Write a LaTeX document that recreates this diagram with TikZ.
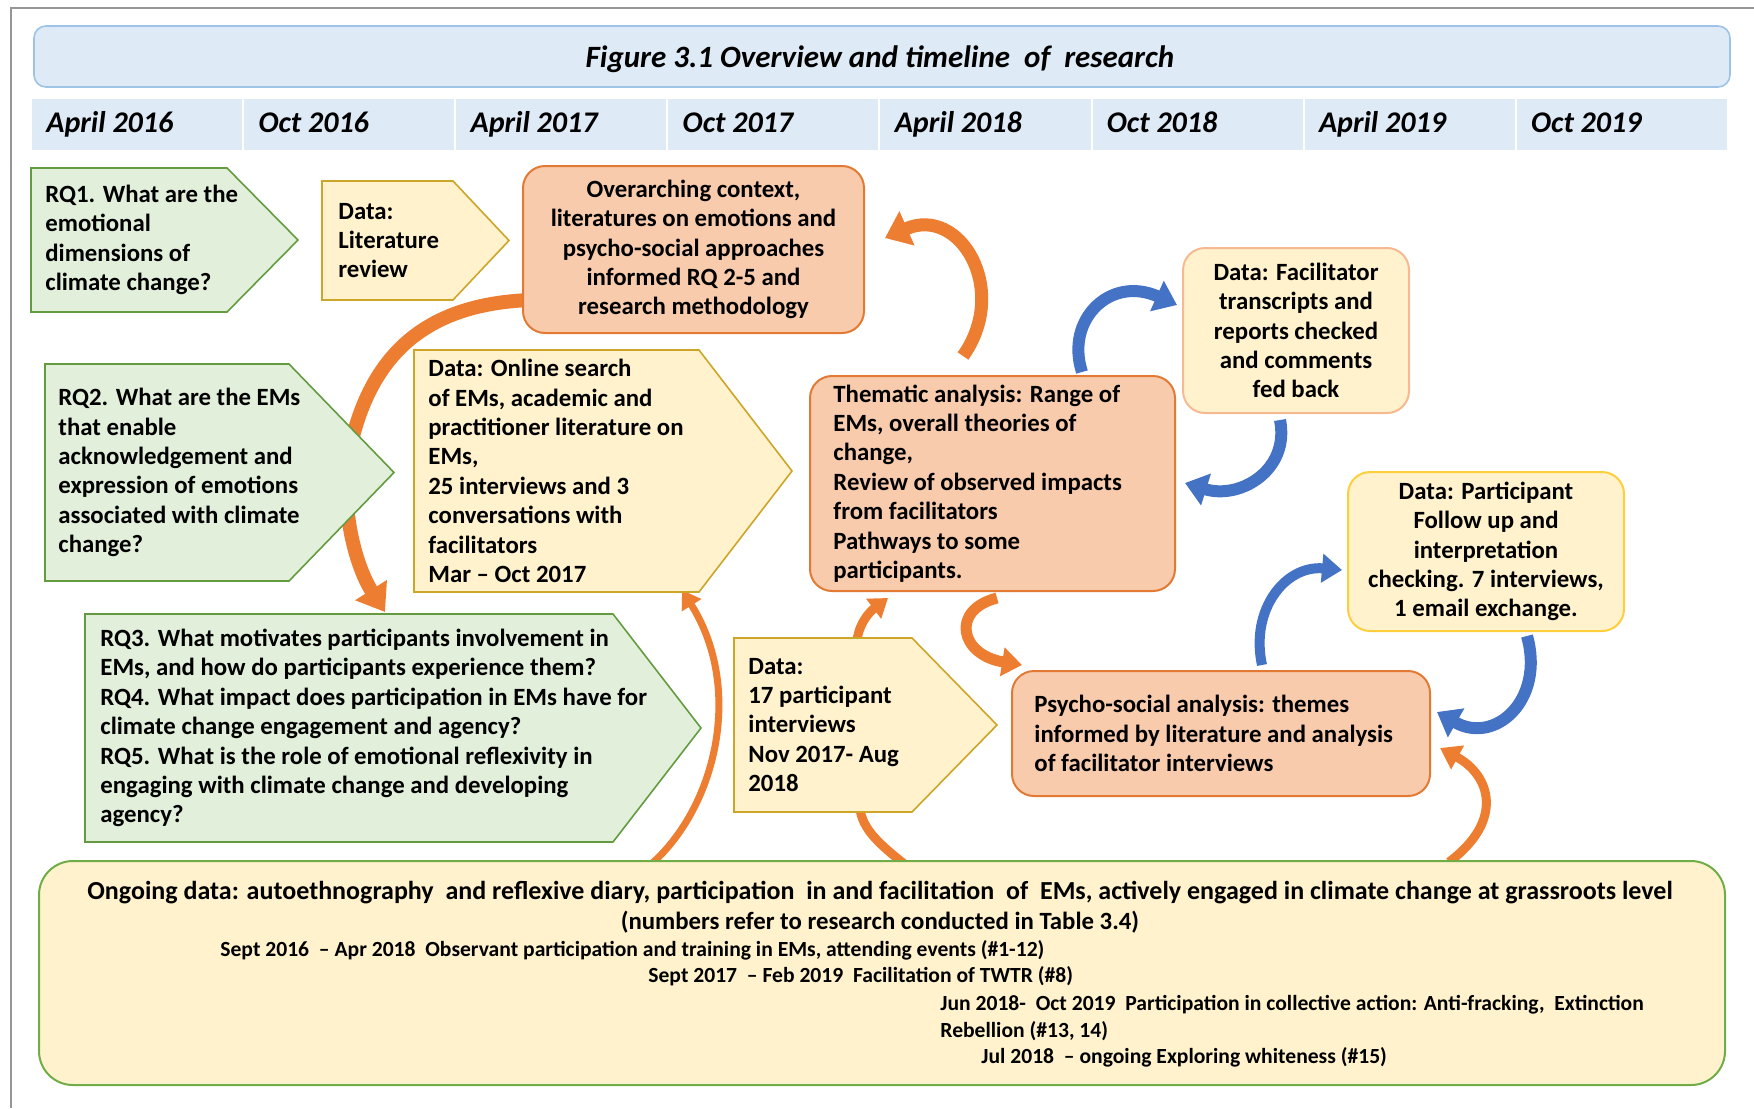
\documentclass[tikz,border=0pt]{standalone}
\usepackage{fontspec}
\setmainfont{Carlito}
\usetikzlibrary{arrows.meta,calc}

\definecolor{grnfill}{RGB}{226,239,218}
\definecolor{grnline}{RGB}{100,155,65}
\definecolor{ylwfill}{RGB}{255,242,204}
\definecolor{goldline}{RGB}{205,165,40}
\definecolor{pchfill}{RGB}{248,203,173}
\definecolor{orgline}{RGB}{226,122,52}
\definecolor{lpchline}{RGB}{246,185,145}
\definecolor{yelline}{RGB}{255,206,60}
\definecolor{botline}{RGB}{112,173,71}
\definecolor{bluefill}{RGB}{222,235,247}
\definecolor{blueline}{RGB}{157,195,230}
\definecolor{arrorange}{RGB}{237,125,49}
\definecolor{arrblue}{RGB}{68,114,196}
\definecolor{framegray}{RGB}{150,150,150}

\begin{document}
\begin{tikzpicture}[x=0.5pt,y=-0.5pt,
  bodynode/.style={inner sep=0pt,outer sep=0pt,draw=none,fill=none},
  greenbox/.style={fill=grnfill,draw=grnline,line width=0.8pt},
  databox/.style={fill=ylwfill,draw=goldline,line width=0.8pt},
  peachbox/.style={fill=pchfill,draw=orgline,line width=1pt,rounded corners=11pt},
  notebox/.style={fill=ylwfill,line width=1pt,rounded corners=11pt},
  cell/.style={bodynode,fill=bluefill,draw=white,line width=1pt,minimum width=106.05pt,minimum height=26.5pt},
  headtxt/.style={inner sep=0pt,font=\fontsize{15}{18}\selectfont\bfseries\itshape},
  txt/.style={inner sep=0pt,font=\fontsize{12.4}{14.7}\selectfont\bfseries,align=left},
  ctxt/.style={txt,align=center},
  wide/.style={inner sep=0pt,font=\fontsize{12.4}{14.7}\selectfont\bfseries},
  smalltxt/.style={inner sep=0pt,font=\fontsize{10.8}{13}\selectfont\bfseries},
  oarr/.style n args={3}{draw=arrorange,line width=#1,-{Triangle[width=#2,length=#3]}},
  barr/.style n args={3}{draw=arrblue,line width=#1,-{Triangle[width=#2,length=#3]}},
]
\useasboundingbox (0,0) rectangle (1754,1108);

% page frame
\draw[framegray,line width=1pt] (1754,8) -- (11,8) -- (11,1108);

% heading banner and timeline
\node[bodynode,fill=bluefill,draw=blueline,line width=0.8pt,rounded corners=6pt,
      minimum width=848pt,minimum height=30.5pt] (banner) at (882,56.5) {};
\node[headtxt,font=\fontsize{15.5}{18}\selectfont\bfseries\itshape,anchor=base] (title) at (880,67)
  {Figure 3.1 Overview and timeline\ \ of\ \ research};
\foreach \lab [count=\i from 0] in {April 2016,Oct 2016,April 2017,Oct 2017,April 2018,Oct 2018,April 2019,Oct 2019}{
  \node[cell] (m\i) at ({31+212.1*(\i+0.5)},124.5) {};
  \node[headtxt,anchor=base west] (ml\i) at ($(m\i.west)+(15,8)$) {\lab};
}

% box geometry
\node[bodynode,minimum width=98pt,minimum height=72pt] (rq1) at (129,240) {};
\node[bodynode,minimum width=65.5pt,minimum height=59.5pt] (lit) at (387.5,240.5) {};
\node[bodynode,minimum width=170.5pt,minimum height=83.5pt] (ctx) at (693.5,249.5) {};
\node[bodynode,minimum width=122pt,minimum height=108.5pt] (rq2) at (167,472.5) {};
\node[bodynode,minimum width=142.5pt,minimum height=121pt] (onl) at (556.5,471) {};
\node[bodynode,minimum width=264pt,minimum height=114pt] (rq3) at (349,728) {};
\node[bodynode,minimum width=89pt,minimum height=87pt] (d17) at (823,725) {};
\node[bodynode,minimum width=182.5pt,minimum height=107.5pt] (thm) at (992.5,483.5) {};
\node[bodynode,minimum width=113pt,minimum height=82.5pt] (fac) at (1296,330.5) {};
\node[bodynode,minimum width=138pt,minimum height=79.5pt] (par) at (1486,551.5) {};
\node[bodynode,minimum width=209pt,minimum height=62.5pt] (psy) at (1221,733.5) {};
\node[bodynode,minimum width=843pt,minimum height=112pt] (bot) at (882,973) {};

% curved connectors (drawn under the boxes)
\draw[oarr={7pt}{18pt}{13pt}] ($(ctx.south west)+(7,-33)$)
  .. controls (428,304) and (374,352) .. (352,440)
  .. controls (337,500) and (355,565) .. ($(rq3.north west)+(300,-2)$);
\draw[oarr={3.5pt}{11pt}{9pt}] ($(bot.north west)+(610,5)$)
  .. controls (715,810) and (745,690) .. ($(onl.south east)+(-17,-2)$);
\draw[oarr={6.5pt}{18pt}{12pt}] ($(thm.north west)+(153,-20)$)
  .. controls (1010,290) and (960,205) .. ($(ctx.east)+(21,-11.5)$);
\draw[oarr={4.5pt}{12pt}{9pt}] ($(d17.north west)+(123,2)$)
  .. controls (860,620) and (872,610) .. ($(thm.south west)+(78,7)$);
\draw[oarr={5.5pt}{14pt}{10pt}] ($(thm.south west)+(187,7)$)
  .. controls (950,610) and (960,655) .. ($(psy.north west)+(10,-6)$);
\draw[oarr={4.5pt}{12pt}{9pt}] ($(bot.north west)+(873,9)$)
  .. controls (880,845) and (862,830) .. ($(d17.south west)+(124,-22)$);
\draw[oarr={4.5pt}{13pt}{10pt}] ($(bot.north west)+(1410,1)$)
  .. controls (1505,820) and (1490,775) .. ($(psy.east)+(10,14.5)$);
\draw[barr={6pt}{16pt}{11pt}] ($(thm.north west)+(272,-4)$)
  .. controls (1065,320) and (1110,275) .. ($(fac.west)+(-6,-25.5)$);
\draw[barr={6pt}{16pt}{11pt}] ($(fac.south west)+(97,7)$)
  .. controls (1290,470) and (1240,500) .. ($(thm.east)+(10,-0.5)$);
\draw[barr={5pt}{14pt}{10pt}] ($(psy.north west)+(250,-6)$)
  .. controls (1250,610) and (1285,565) .. ($(par.west)+(-6,18.5)$);
\draw[barr={6pt}{16pt}{11pt}] ($(par.south west)+(179,5)$)
  .. controls (1545,700) and (1495,745) .. ($(psy.east)+(7,-21.5)$);

% box outlines
\draw[greenbox] (rq1.north west) -- (rq1.north east) -- ($(rq1.east)+(71,0)$) -- (rq1.south east) -- (rq1.south west) -- cycle;
\draw[databox] (lit.north west) -- (lit.north east) -- ($(lit.east)+(56,0)$) -- (lit.south east) -- (lit.south west) -- cycle;
\draw[peachbox] (ctx.north west) rectangle (ctx.south east);
\draw[greenbox] (rq2.north west) -- (rq2.north east) -- ($(rq2.east)+(105,0)$) -- (rq2.south east) -- (rq2.south west) -- cycle;
\draw[databox] (onl.north west) -- (onl.north east) -- ($(onl.east)+(93,0)$) -- (onl.south east) -- (onl.south west) -- cycle;
\draw[greenbox] (rq3.north west) -- (rq3.north east) -- ($(rq3.east)+(88,0)$) -- (rq3.south east) -- (rq3.south west) -- cycle;
\draw[databox] (d17.north west) -- (d17.north east) -- ($(d17.east)+(85,0)$) -- (d17.south east) -- (d17.south west) -- cycle;
\draw[peachbox] (thm.north west) rectangle (thm.south east);
\draw[notebox,draw=lpchline] (fac.north west) rectangle (fac.south east);
\draw[notebox,draw=yelline] (par.north west) rectangle (par.south east);
\draw[peachbox] (psy.north west) rectangle (psy.south east);
\draw[notebox,draw=botline,rounded corners=17pt] (bot.north west) rectangle (bot.south east);

% box texts
\node[txt,anchor=west] (rq1T) at ($(rq1.west)+(14,0)$) {RQ1. What are the\\emotional\\dimensions of\\climate change?};
\node[txt,anchor=west] (litT) at ($(lit.west)+(16,0)$) {Data:\\Literature\\review};
\node[ctxt] (ctxT) at (ctx.center) {Overarching context,\\literatures on emotions and\\psycho-social approaches\\informed RQ 2-5 and\\research methodology};
\node[txt,anchor=west] (rq2T) at ($(rq2.west)+(13,0)$) {RQ2. What are the EMs\\that enable\\acknowledgement and\\expression of emotions\\associated with climate\\change?};
\node[txt,anchor=west] (onlT) at ($(onl.west)+(14,0)$) {Data: Online search\\of EMs, academic and\\practitioner literature on\\EMs,\\25 interviews and 3\\conversations with\\facilitators\\Mar – Oct 2017};
\node[txt,anchor=west] (rq3T) at ($(rq3.west)+(15,0)$) {RQ3. What motivates participants involvement in\\EMs, and how do participants experience them?\\RQ4. What impact does participation in EMs have for\\climate change engagement and agency?\\RQ5. What is the role of emotional reflexivity in\\engaging with climate change and developing\\agency?};
\node[txt,anchor=west] (d17T) at ($(d17.west)+(14,0)$) {Data:\\17 participant\\interviews\\Nov 2017- Aug\\2018};
\node[txt,anchor=west] (thmT) at ($(thm.west)+(23,0)$) {Thematic analysis: Range of\\EMs, overall theories of\\change,\\Review of observed impacts\\from facilitators\\Pathways to some\\participants.};
\node[ctxt] (facT) at (fac.center) {Data: Facilitator\\transcripts and\\reports checked\\and comments\\fed back};
\node[ctxt] (parT) at (par.center) {Data: Participant\\Follow up and\\interpretation\\checking. 7 interviews,\\1 email exchange.};
\node[txt,anchor=west] (psyT) at ($(psy.west)+(22,0)$) {Psycho-social analysis: themes\\informed by literature and analysis\\of facilitator interviews};

% ongoing data panel
\node[wide,font=\fontsize{13}{15}\selectfont\bfseries,anchor=base] (botA) at (880,899) {Ongoing data: autoethnography\ \ and reflexive diary, participation\ \ in and facilitation\ \ of\ \ EMs, actively engaged in climate change at grassroots level};
\node[wide,anchor=base] (botB) at (880,929) {(numbers refer to research conducted in Table 3.4)};
\node[smalltxt,anchor=base west] (botC) at (220,956) {Sept 2016\ \ – Apr 2018\ \ Observant participation and training in EMs, attending events (\#1-12)};
\node[smalltxt,anchor=base west] (botD) at (648,982) {Sept 2017\ \ – Feb 2019\ \ Facilitation of TWTR (\#8)};
\node[smalltxt,anchor=base west] (botE) at (940,1010) {Jun 2018-\ \ Oct 2019\ \ Participation in collective action: Anti-fracking,\ \ Extinction};
\node[smalltxt,anchor=base west] (botF) at (940,1037) {Rebellion (\#13, 14)};
\node[smalltxt,anchor=base west] (botG) at (981,1063) {Jul 2018\ \ – ongoing Exploring whiteness (\#15)};
\end{tikzpicture}
\end{document}
